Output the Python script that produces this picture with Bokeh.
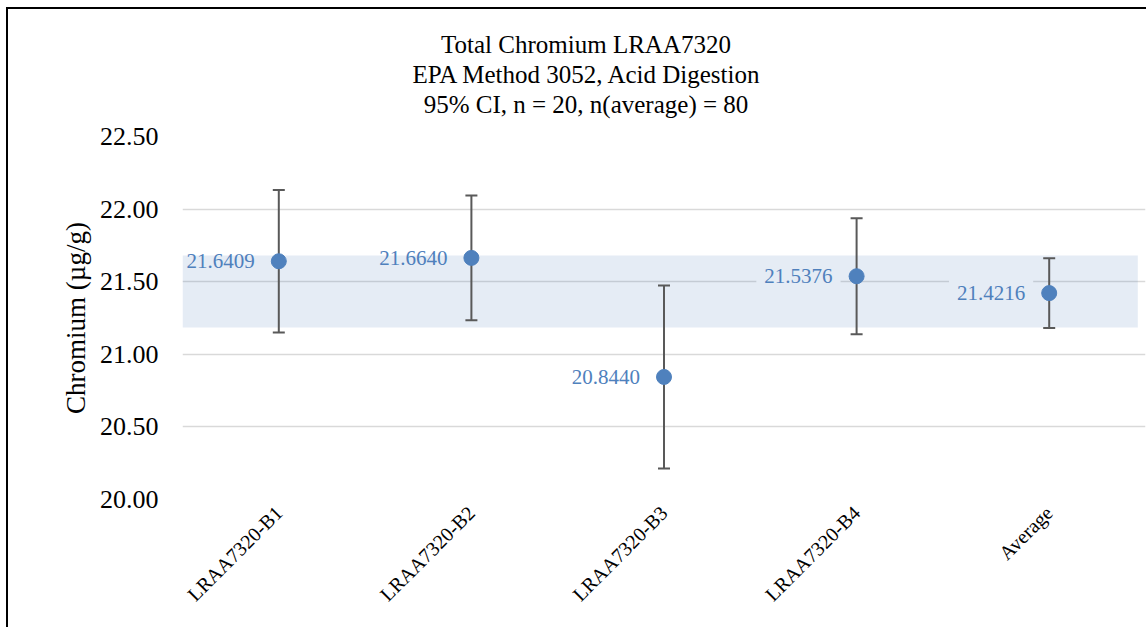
import math
from bokeh.plotting import figure
from bokeh.layouts import column
from bokeh.models import (FactorRange, Range1d, FixedTicker, NumeralTickFormatter,
                          ColumnDataSource, Div)
from bokeh.core.properties import value
from bokeh.embed import file_html
from bokeh.resources import INLINE

# ---- data ----
categories = ["LRAA7320-B1", "LRAA7320-B2", "LRAA7320-B3", "LRAA7320-B4", "Average"]
means = [21.6409, 21.6640, 20.8440, 21.5376, 21.4216]
ci_half = [0.49, 0.43, 0.63, 0.40, 0.24]
band_range = [21.185, 21.68]          # shaded 95% CI of the average
y_ticks = [20.0, 20.5, 21.0, 21.5, 22.0, 22.5]
title_lines = ["Total Chromium LRAA7320",
               "EPA Method 3052, Acid Digestion",
               "95% CI, n = 20, n(average) = 80"]
y_label = "Chromium (\u00b5g/g)"

SERIF = "Liberation Serif"
BLUE = "#4f81bd"
GREY = "#595959"

W = 1138
TITLE_H = 112
FIG_H = 618 - TITLE_H

font_css = '"Liberation Serif", "Times New Roman", Times, serif'
title_html = ("<div style='font-family: " + font_css + "; font-size: 25px; line-height: 30px; "
              "color: black; text-align: center; width: 1120px; margin-left: 18px; "
              "padding-top: 21px; font-weight: normal;'>"
              + "<br>".join(title_lines) + "</div>")
title_div = Div(text=title_html, width=W, height=TITLE_H, margin=0,
                styles={"overflow": "visible", "background": "white",
                        "font-family": font_css, "font-size": "25px"})

p = figure(x_range=FactorRange(*categories), y_range=Range1d(y_ticks[0], y_ticks[-1]),
           width=W, height=FIG_H, output_backend="svg", toolbar_location=None,
           min_border_left=174, min_border_right=1, min_border_top=15, min_border_bottom=128)
p.margin = 0
p.outline_line_color = None
p.background_fill_color = "white"
p.border_fill_color = "white"

# grid
p.xgrid.grid_line_color = None
p.ygrid.grid_line_color = "#d9d9d9"
p.ygrid.grid_line_width = 1.5
p.yaxis.ticker = FixedTicker(ticks=y_ticks)
p.yaxis.formatter = NumeralTickFormatter(format="0.00")

# axes
for ax in (p.xaxis[0], p.yaxis[0]):
    ax.axis_line_color = None
    ax.major_tick_line_color = None
    ax.minor_tick_line_color = None
    ax.major_tick_in = 0
    ax.major_tick_out = 0
    ax.major_label_text_font = SERIF
    ax.major_label_text_color = "black"
p.yaxis.major_label_text_font_size = "26px"
p.yaxis.major_label_standoff = 24
p.yaxis.axis_label = y_label
p.yaxis.axis_label_text_font = SERIF
p.yaxis.axis_label_text_font_size = "27px"
p.yaxis.axis_label_text_font_style = "normal"
p.yaxis.axis_label_text_color = "black"
p.yaxis.axis_label_standoff = 6
p.xaxis.major_label_text_font_size = "20px"
p.xaxis.major_label_orientation = math.pi / 4
p.xaxis.major_label_standoff = 10

src = ColumnDataSource(dict(
    x=categories, y=means,
    lo=[m - e for m, e in zip(means, ci_half)],
    hi=[m + e for m, e in zip(means, ci_half)],
    lab=[f"{m:.4f}" for m in means],
))

# data labels (white box), drawn beneath the band so band tints them
p.text(x="x", y="y", text="lab", source=src, text_align="right", text_baseline="middle",
       x_offset=-16, text_font=value(SERIF), text_font_size="21px", text_color=BLUE,
       background_fill_color="white", padding=8)

# shaded band (categorical offsets: from left edge of first to near right edge of last)
p.quad(left=[(categories[0], -0.5)], right=[(categories[-1], 0.46)],
       bottom=[band_range[0]], top=[band_range[1]],
       fill_color=BLUE, fill_alpha=0.15, line_color=None)

# error bars
p.segment(x0="x", y0="lo", x1="x", y1="hi", source=src, line_color=GREY, line_width=2)
p.scatter(x="x", y="lo", source=src, marker="dash", size=12, line_color=GREY, line_width=2)
p.scatter(x="x", y="hi", source=src, marker="dash", size=12, line_color=GREY, line_width=2)

# markers
p.scatter(x="x", y="y", source=src, marker="circle", size=15, fill_color=BLUE, line_color=BLUE)

layout = column(title_div, p, spacing=0,
                styles={"border-left": "2px solid black", "border-top": "2px solid black",
                        "margin-left": "6px", "margin-top": "7px", "background": "white"})

open("out.html", "w").write(file_html(layout, INLINE))
